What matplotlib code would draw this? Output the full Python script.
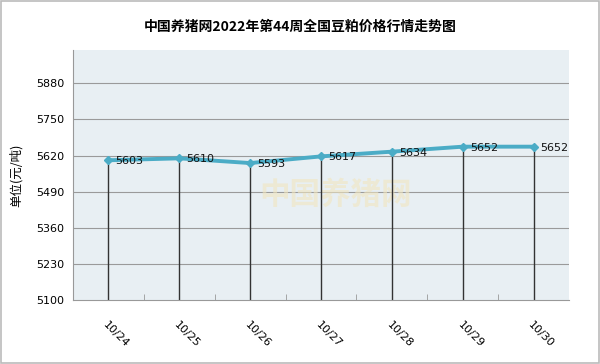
import matplotlib
matplotlib.use('Agg')
import matplotlib.pyplot as plt
from matplotlib.patches import Rectangle

plt.rcParams['font.family'] = ['Noto Sans CJK SC', 'DejaVu Sans']

# data
dates = ['10/24', '10/25', '10/26', '10/27', '10/28', '10/29', '10/30']
prices = [5603, 5610, 5593, 5617, 5634, 5652, 5652]
yticks = [5100, 5230, 5360, 5490, 5620, 5750, 5880]

fig = plt.figure(figsize=(6, 3.64), dpi=100)
ax = fig.add_axes([73/600, 1 - 300/364, 496/600, 250/364])
ax.set_facecolor('#E8EFF3')

x = list(range(len(dates)))
ax.set_xlim(-0.5, len(dates) - 0.5)
ax.set_ylim(5100, 6000)

for yt in yticks[1:]:
    ax.axhline(yt, color='#9A9A9A', lw=0.8, zorder=1)

ax.vlines(x, 5100, prices, color='#333333', lw=1.0, zorder=2)
ax.plot(x, prices, color='#4BACC6', lw=2.8, marker='D', ms=4.5,
        mfc='#4BACC6', mec='#4BACC6', zorder=3)
for xi, p in zip(x, prices):
    ax.text(xi + 0.1, p - 4, str(p), fontsize=8, va='center', ha='left',
            family='DejaVu Sans', color='#111111', zorder=4)

# watermark
ax.text(3.2, 5480, '中国养猪网', fontsize=22, color='#F1E6C0', alpha=0.6,
        ha='center', va='center', fontweight='bold', zorder=1.5)

ax.set_yticks(yticks)
ax.set_yticklabels([str(v) for v in yticks], family='DejaVu Sans', fontsize=8)
ax.set_xticks(x)
ax.set_xticklabels(dates, rotation=-45, ha='left', rotation_mode='anchor',
                   family='DejaVu Sans', fontsize=8)
ax.set_xticks([i + 0.5 for i in x[:-1]], minor=True)
ax.tick_params(axis='x', which='major', length=0, pad=14)
ax.tick_params(axis='x', which='minor', direction='in', length=4, color='#999999')
ax.tick_params(axis='y', length=0, pad=6)
for side in ['top', 'right']:
    ax.spines[side].set_visible(False)
ax.spines['left'].set_color('#999999')
ax.spines['bottom'].set_color('#999999')

ax.set_ylabel('单位(元/吨)', fontsize=9, labelpad=10)
fig.text(0.5, 1 - 27/364, '中国养猪网2022年第44周全国豆粕价格行情走势图',
         ha='center', va='center', fontsize=10, fontweight='bold')

fig.patches.append(Rectangle((0.002, 0.003), 0.996, 0.994, transform=fig.transFigure,
                             fill=False, ec='#BBBBBB', lw=1.2))

fig.savefig('out.png', dpi=100)
